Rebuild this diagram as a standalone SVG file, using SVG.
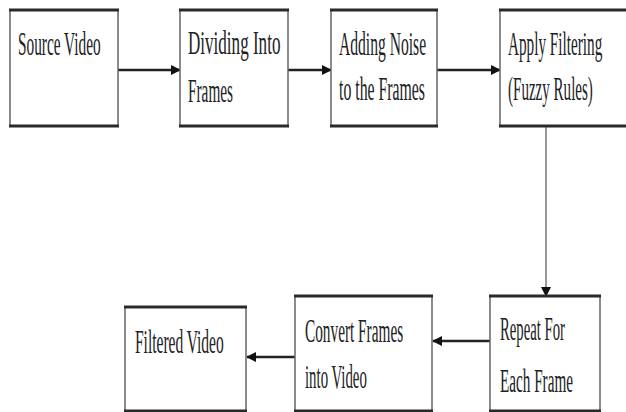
<svg xmlns="http://www.w3.org/2000/svg" width="626" height="412" viewBox="0 0 626 412">
<style>
.box{fill:#fff;stroke:#666;stroke-width:1.5}
.edge{stroke:#2a2a2a;stroke-width:3}
.t{font-family:"Liberation Serif","Times New Roman",serif;font-size:34px;fill:#222}
.c{stroke:#222;stroke-width:2.5;fill:none}
.cv{stroke:#777;stroke-width:1.5;fill:none}
</style>
<defs>
<marker id="ah" markerWidth="10" markerHeight="10" refX="9" refY="5" orient="auto" markerUnits="userSpaceOnUse">
<path d="M0,0 L10,5 L0,10 Z" fill="#111"/>
</marker>
</defs>
<g id="connectors">
<line class="c" x1="118" y1="70" x2="180" y2="70" marker-end="url(#ah)"/>
<line class="c" x1="288" y1="70" x2="331" y2="70" marker-end="url(#ah)"/>
<line class="c" x1="437" y1="70" x2="500" y2="70" marker-end="url(#ah)"/>
<line class="cv" x1="546" y1="126" x2="546" y2="296" marker-end="url(#ah)"/>
<line class="c" x1="490" y1="341" x2="433" y2="341" marker-end="url(#ah)"/>
<line class="c" x1="295" y1="357" x2="247" y2="357" marker-end="url(#ah)"/>
</g>
<g id="source">
<rect class="box" x="10" y="10" width="108" height="116"/>
<line class="edge" x1="9" y1="10" x2="119" y2="10"/><line class="edge" x1="9" y1="126" x2="119" y2="126"/>
<text class="t" transform="translate(18,55) scale(0.451,1)">Source Video</text>
</g>
<g id="dividing">
<rect class="box" x="180" y="10" width="108" height="116"/>
<line class="edge" x1="179" y1="10" x2="289" y2="10"/><line class="edge" x1="179" y1="126" x2="289" y2="126"/>
<text class="t" transform="translate(188,54) scale(0.502,1)">Dividing Into</text>
<text class="t" transform="translate(188,102) scale(0.45,1)">Frames</text>
</g>
<g id="noise">
<rect class="box" x="331" y="10" width="106" height="116"/>
<line class="edge" x1="330" y1="10" x2="438" y2="10"/><line class="edge" x1="330" y1="126" x2="438" y2="126"/>
<text class="t" transform="translate(339,55) scale(0.459,1)">Adding Noise</text>
<text class="t" transform="translate(339,100) scale(0.465,1)">to the Frames</text>
</g>
<g id="filtering">
<rect class="box" x="500" y="10" width="130" height="116"/>
<line class="edge" x1="499" y1="10" x2="626" y2="10"/><line class="edge" x1="499" y1="126" x2="626" y2="126"/>
<text class="t" transform="translate(508,55) scale(0.448,1)">Apply Filtering</text>
<text class="t" transform="translate(508,100) scale(0.443,1)">(Fuzzy Rules)</text>
</g>
<g id="repeat">
<rect class="box" x="490" y="296" width="110" height="115"/>
<line class="edge" x1="489" y1="296" x2="601" y2="296"/><line class="edge" x1="489" y1="411" x2="601" y2="411"/>
<text class="t" transform="translate(500,340) scale(0.433,1)">Repeat For</text>
<text class="t" transform="translate(500,392) scale(0.447,1)">Each Frame</text>
</g>
<g id="convert">
<rect class="box" x="295" y="296" width="137" height="115"/>
<line class="edge" x1="294" y1="296" x2="433" y2="296"/><line class="edge" x1="294" y1="411" x2="433" y2="411"/>
<text class="t" transform="translate(305,342) scale(0.45,1)">Convert Frames</text>
<text class="t" transform="translate(305,388) scale(0.436,1)">into Video</text>
</g>
<g id="filtered">
<rect class="box" x="125" y="307" width="121" height="104"/>
<line class="edge" x1="124" y1="307" x2="247" y2="307"/><line class="edge" x1="124" y1="411" x2="247" y2="411"/>
<text class="t" transform="translate(135,353) scale(0.456,1)">Filtered Video</text>
</g>
</svg>
